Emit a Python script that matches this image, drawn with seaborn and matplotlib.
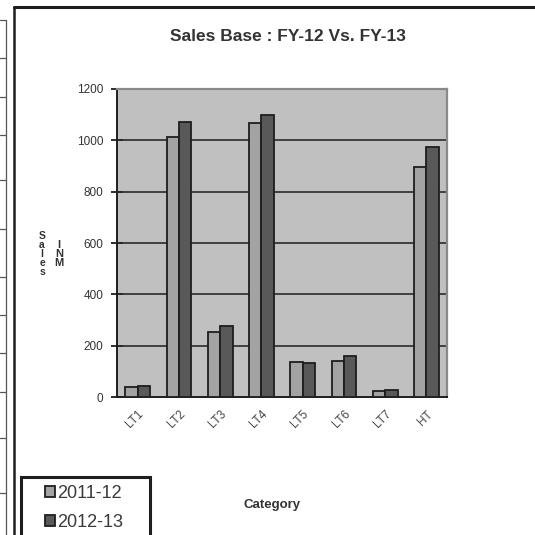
import matplotlib
matplotlib.use("Agg")
import matplotlib.pyplot as plt
from matplotlib.lines import Line2D
from matplotlib.patches import Rectangle
import numpy as np
import pandas as pd
import seaborn as sns

# ---- data -------------------------------------------------------------
categories = ["LT1", "LT2", "LT3", "LT4", "LT5", "LT6", "LT7", "HT"]
years = ["2011-12", "2012-13"]
sales_fy12 = [40, 1012, 255, 1066, 137, 141, 22, 895]
sales_fy13 = [41, 1073, 275, 1099, 134, 160, 26, 973]
y_ticks = [0, 200, 400, 600, 800, 1000, 1200]

df = pd.DataFrame({
    "Category": categories * 2,
    "Year": [years[0]] * len(categories) + [years[1]] * len(categories),
    "Sales": sales_fy12 + sales_fy13,
})

sns.set_theme(style="white")
plt.rcParams["font.family"] = ["Liberation Sans", "DejaVu Sans"]

W = H = 535
fig = plt.figure(figsize=(5.35, 5.35), dpi=100)
fig.patch.set_facecolor("white")

def fx(px):
    return px / W

def fy(py):
    return 1 - py / H

ax = fig.add_axes([fx(117), fy(397), fx(447) - fx(117), fy(89) - fy(397)])
ax.set_facecolor("#c0c0c0")

palette = {years[0]: "#a3a3a3", years[1]: "#595959"}
sns.barplot(data=df, x="Category", y="Sales", hue="Year", palette=palette,
            order=categories, hue_order=years, width=0.6, dodge=True,
            saturation=1, edgecolor="#1e1e1e", linewidth=1.3, ax=ax,
            errorbar=None, legend=True, zorder=3)

ax.set_ylim(0, 1200)
ax.set_xlim(-0.5, len(categories) - 0.5)
ax.set_yticks(y_ticks)
ax.set_yticklabels([str(v) for v in y_ticks], fontsize=8.5, color="#333333")
for v in y_ticks[1:-1]:
    ax.axhline(v, color="#2a2a2a", lw=1.2, zorder=1)

ax.set_xticks(range(len(categories)))
ax.set_xticklabels(categories, rotation=45, ha="right", rotation_mode="anchor",
                   fontsize=8.5, color="#444444")
ax.tick_params(axis="x", which="major", length=0, pad=8)
ax.set_xticks(np.arange(-0.5, len(categories), 1.0), minor=True)
ax.tick_params(axis="x", which="minor", length=5, width=1.3, color="#1e1e1e",
               direction="out")
ax.tick_params(axis="y", which="major", length=8, width=1.3, color="#1e1e1e",
               direction="inout", pad=6, left=True)

ax.set_xlabel("")
ax.set_ylabel("")
for side in ["left", "bottom"]:
    ax.spines[side].set_color("#1e1e1e")
    ax.spines[side].set_linewidth(1.4)
for side in ["top", "right"]:
    ax.spines[side].set_color("#8a8a8a")
    ax.spines[side].set_linewidth(1.6)

# ---- titles and axis captions ----------------------------------------
fig.text(fx(288), fy(37), "Sales Base : FY-12 Vs. FY-13", ha="center",
         va="center", fontsize=12.5, fontweight="bold", color="#333333")
fig.text(fx(272), fy(505), "Category", ha="center", va="center",
         fontsize=9.5, fontweight="bold", color="#333333")
fig.text(fx(42), fy(254), "S\na\nl\ne\ns", ha="center", va="center",
         fontsize=7.5, fontweight="bold", color="#333333", linespacing=0.85)
fig.text(fx(59), fy(254), "I\nN\nM", ha="center", va="center",
         fontsize=8, fontweight="bold", color="#333333", linespacing=0.85)

# ---- legend -----------------------------------------------------------
handles, labels = ax.get_legend_handles_labels()
if ax.legend_:
    ax.legend_.remove()
leg = fig.legend(handles, labels, loc="upper left",
                 bbox_to_anchor=(fx(45), fy(485)), bbox_transform=fig.transFigure,
                 fontsize=13, frameon=False,
                 handlelength=0.55, handleheight=0.55, handletextpad=0.12,
                 borderpad=0, labelspacing=0.65, borderaxespad=0)
for t in leg.get_texts():
    t.set_color("#3a3a3a")
fig.add_artist(Rectangle((fx(21), -0.02), fx(150) - fx(21), fy(477) + 0.02,
                         transform=fig.transFigure, fill=False,
                         edgecolor="#1e1e1e", lw=2.2))

# ---- chart frame and spreadsheet grid at the left --------------------
fig.add_artist(Line2D([fx(14), fx(14)], [fy(7), 0], color="#1e1e1e", lw=1.8))
fig.add_artist(Line2D([fx(14), 1], [fy(7), fy(7)], color="#1e1e1e", lw=2.2))
fig.add_artist(Line2D([fx(6), fx(6)], [fy(20), 0], color="#555555", lw=0.9))
for py in [20, 58, 97, 135, 180, 229, 277, 315, 353, 392, 438, 493]:
    fig.add_artist(Line2D([0, fx(6)], [fy(py), fy(py)], color="#555555", lw=0.9))

fig.savefig("out.png", dpi=100, facecolor="white")
